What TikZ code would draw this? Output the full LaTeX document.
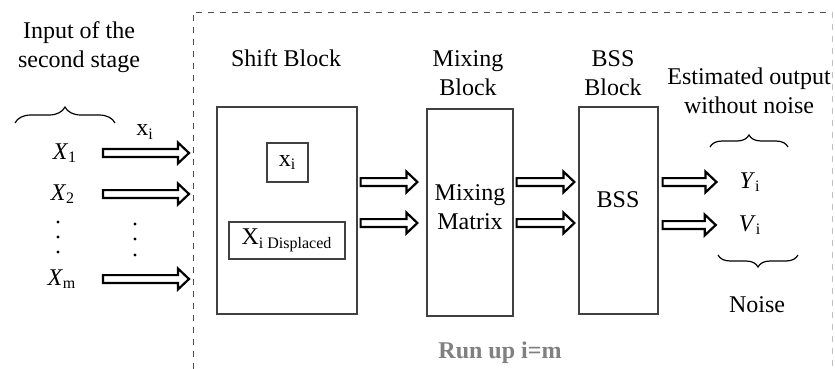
\documentclass[tikz,border=0pt]{standalone}
\usepackage{fontspec}
\setmainfont{Liberation Serif}
\usetikzlibrary{calc, decorations.pathreplacing}

\tikzset{
	blk/.style = {draw = black!75, line width = 0.6pt, inner sep = 0pt},
	lbl/.style = {align = center, font = \fontsize{12}{14.5}\selectfont},
	bigarrow/.style = {draw, line width = 1.1pt, line join = miter},
	brc/.style = {decorate, decoration = {brace, amplitude = #1}, line width = 0.6pt},
	brc/.default = 8pt
}
% hollow block arrow from #1 to #2, drawn as an outline
\newcommand{\blockarrow}[2]{%
	\draw[bigarrow] let \p1 = (#1), \p2 = (#2) in
		(\x1,\y1+1.95pt) -- (\x2-6.5pt,\y1+1.95pt) -- (\x2-6.5pt,\y1+5.2pt) -- (\x2-1pt,\y1)
		-- (\x2-6.5pt,\y1-5.2pt) -- (\x2-6.5pt,\y1-1.95pt) -- (\x1,\y1-1.95pt) -- cycle;}

\begin{document}
\begin{tikzpicture}[x = 0.5pt, y = -0.5pt]
	\useasboundingbox (0,0) rectangle (835,369);
	% frame of the loop
	\draw[dashed, black!70] (193,369) -- (193,12) -- (832,12);
	\draw[dashed, black!25] (832,12) -- (832,369);
	\coordinate (frame) at (191,0);
	\coordinate (instart) at (103,0);
	\coordinate (r1) at (0,182);
	\coordinate (r2) at (0,223);

	% inputs
	\node[lbl] (intitle) at (79,47) {Input of the\\second stage};
	\draw[brc] (15,123) -- (115,123);
	\node[lbl] (x1) at (65,153) {\textit{X}\textsubscript{1}};
	\node[lbl] (x2) at (63,194) {\textit{X}\textsubscript{2}};
	\node[lbl] (xm) at (62,279) {\textit{X}\textsubscript{m}};
	\node[lbl] (xi) at (145,132) {x\textsubscript{i}};
	\foreach \y in {222,237,252} \fill (58,\y) circle (0.8pt);
	\foreach \y in {224,239,255} \fill (135,\y) circle (0.8pt);
	\foreach \inp in {x1,x2,xm} {
		\blockarrow{\inp -| instart}{\inp -| frame}
	}

	% shift block
	\node[lbl] (shifttitle) at (286,58) {Shift Block};
	\node[blk, minimum width = 70pt, minimum height = 103.5pt] (shift) at (287,210.5) {};
	\node[blk, lbl, minimum width = 20.5pt, minimum height = 19.5pt] (xibox) at (287.5,162.5) {x\textsubscript{i}};
	\node[blk, lbl, minimum width = 58pt, minimum height = 18.5pt] (disp) at (287,240.5) {X\textsubscript{i Displaced}};

	% mixing block
	\node[lbl] (mixtitle) at (468,73) {Mixing\\Block};
	\node[blk, lbl, minimum width = 43pt, minimum height = 103.5pt] (mix) at (470,212.5) {};
	\node[lbl] (mixtext) at (470,207) {Mixing\\Matrix};

	% BSS block
	\node[lbl] (bsstitle) at (613,73) {BSS\\Block};
	\node[blk, minimum width = 39.5pt, minimum height = 103.5pt] (bss) at (618.5,210.5) {};
	\node[lbl] (bsstext) at (618,200) {BSS};

	% outputs
	\node[lbl] (outtitle) at (749,91) {Estimated output\\without noise};
	\draw[brc = 6pt] (710,147) -- (788,147);
	\node[lbl] (yi) at (750,182) {\textit{Y}\textsubscript{i}};
	\node[lbl] (vi) at (750,225) {\textit{V}\textsubscript{i}};
	\draw[brc = 6pt, decoration = {mirror}] (718,255) -- (798,255);
	\node[lbl] (noise) at (757,305) {Noise};

	\foreach \row in {r1,r2} {
		\blockarrow{$(shift.east |- \row)+(1.5pt,0)$}{$(mix.west |- \row)+(-3.5pt,0)$}
		\blockarrow{$(mix.east |- \row)+(1.5pt,0)$}{$(bss.west |- \row)+(-1pt,0)$}
	}
	\blockarrow{$(bss.east |- r1)+(2pt,0)$}{$(yi.west)+(-7pt,0)$}
	\blockarrow{$(bss.east |- vi)+(2pt,0)$}{$(vi.west)+(-7pt,0)$}

	\node[lbl, text = black!50, font = \fontsize{12}{14.5}\selectfont\bfseries] (runup) at (500,353) {Run up i=m};
\end{tikzpicture}
\end{document}
